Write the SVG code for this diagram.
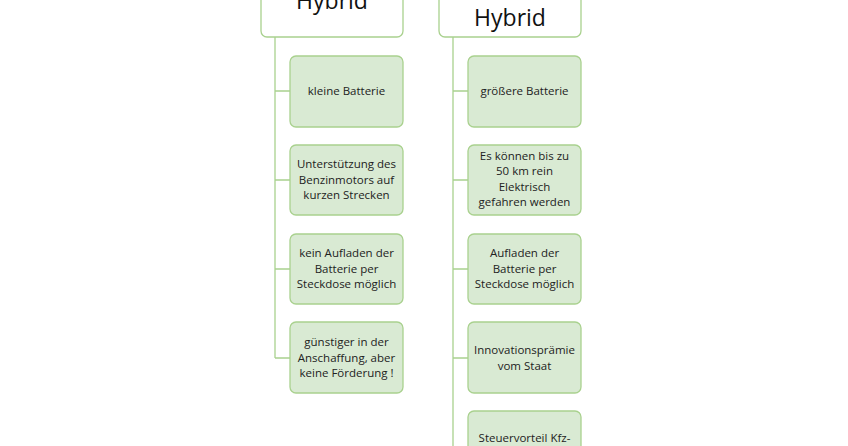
<svg xmlns="http://www.w3.org/2000/svg" width="848" height="446" viewBox="0 0 848 446">
<style>
.h{fill:#fff;stroke:#a9d18e;stroke-width:1.3}
.c{fill:#d9ead3;stroke:#a9d18e;stroke-width:1.3}
.ht{font-family:"Open Sans","Liberation Sans",sans-serif;font-size:23px;fill:#111;text-anchor:middle}
.t{font-family:"Open Sans","Liberation Sans",sans-serif;font-size:11.5px;fill:#222;text-anchor:middle}
#conn path{fill:none;stroke:#a9d18e;stroke-width:1.3}
</style>
<rect width="848" height="446" fill="#fff"/>
<g id="conn">
<path d="M275 37V358M275 91H290M275 180H290M275 269H290M275 358H290"/>
<path d="M453 37V446M453 91H468M453 180H468M453 269H468M453 358H468"/>
</g>
<g id="h1"><rect class="h" x="261" y="-30" width="142" height="67" rx="6"/><text class="ht" x="332" y="9">Hybrid</text></g>
<g id="h2"><rect class="h" x="439" y="-30" width="142" height="67" rx="6"/><text class="ht" x="510" y="26">Hybrid</text></g>
<g id="l1"><rect class="c" x="290" y="56" width="113" height="71" rx="6"/><text class="t" x="346.5" y="95">kleine Batterie</text></g>
<g id="l2"><rect class="c" x="290" y="145" width="113" height="70" rx="6"/><text class="t" x="346.5" y="168">Unterstützung des</text><text class="t" x="346.5" y="184">Benzinmotors auf</text><text class="t" x="346.5" y="199">kurzen Strecken</text></g>
<g id="l3"><rect class="c" x="290" y="234" width="113" height="70" rx="6"/><text class="t" x="346.5" y="257">kein Aufladen der</text><text class="t" x="346.5" y="273">Batterie per</text><text class="t" x="346.5" y="288">Steckdose möglich</text></g>
<g id="l4"><rect class="c" x="290" y="322" width="113" height="71" rx="6"/><text class="t" x="346.5" y="346">günstiger in der</text><text class="t" x="346.5" y="362">Anschaffung, aber</text><text class="t" x="346.5" y="377">keine Förderung !</text></g>
<g id="r1"><rect class="c" x="468" y="56" width="113" height="71" rx="6"/><text class="t" x="524.5" y="95">größere Batterie</text></g>
<g id="r2"><rect class="c" x="468" y="145" width="113" height="70" rx="6"/><text class="t" x="524.5" y="160">Es können bis zu</text><text class="t" x="524.5" y="175">50 km rein</text><text class="t" x="524.5" y="191">Elektrisch</text><text class="t" x="524.5" y="206">gefahren werden</text></g>
<g id="r3"><rect class="c" x="468" y="234" width="113" height="70" rx="6"/><text class="t" x="524.5" y="257">Aufladen der</text><text class="t" x="524.5" y="273">Batterie per</text><text class="t" x="524.5" y="288">Steckdose möglich</text></g>
<g id="r4"><rect class="c" x="468" y="322" width="113" height="71" rx="6"/><text class="t" x="524.5" y="354">Innovationsprämie</text><text class="t" x="524.5" y="370">vom Staat</text></g>
<g id="r5"><rect class="c" x="468" y="411" width="113" height="70" rx="6"/><text class="t" x="524.5" y="442">Steuervorteil Kfz-</text></g>
</svg>
